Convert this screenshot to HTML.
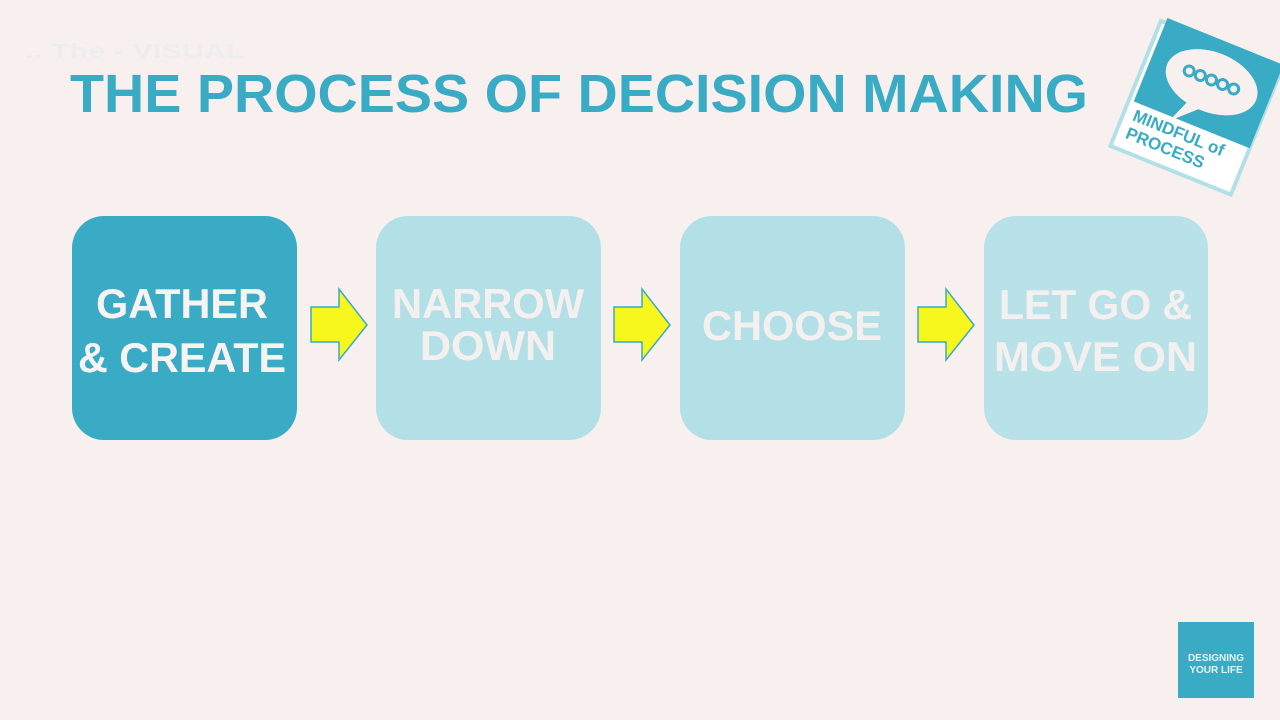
<!DOCTYPE html>
<html><head><meta charset="utf-8"><style>
html,body{margin:0;padding:0;background:#f8f0ef;}
svg{display:block}
</style></head><body>
<svg width="1280" height="720" viewBox="0 0 1280 720" xmlns="http://www.w3.org/2000/svg" font-family="Liberation Sans, sans-serif" font-weight="bold">
<rect width="1280" height="720" fill="#f8f0ef"/>
<text x="70" y="112" font-size="54" fill="#3aabc4" textLength="1018" lengthAdjust="spacingAndGlyphs">THE PROCESS OF DECISION MAKING</text>
<text x="25" y="58" font-size="20" fill="#cfe9ee" textLength="220" lengthAdjust="spacingAndGlyphs" opacity="0.3">..  The  -  VISUAL</text>

<!-- logo top right -->
<g transform="translate(1195,110) rotate(22)">
  <rect x="-65" y="-70" width="130" height="135" fill="#fff" stroke="#b3e0e7" stroke-width="4"/>
  <rect x="-60" y="-75" width="125" height="90" fill="#3aabc4"/>
  <ellipse cx="5" cy="-32" rx="48" ry="30" fill="#f8f0ef"/>
  <path d="M-10 -5 L-20 20 L5 -4 Z" fill="#f8f0ef"/>
  <g fill="none" stroke="#3aabc4" stroke-width="3">
    <circle cx="-20" cy="-34" r="5"/><circle cx="-8" cy="-34" r="5"/><circle cx="4" cy="-34" r="5"/><circle cx="16" cy="-34" r="5"/><circle cx="28" cy="-34" r="5"/>
  </g>
  <text x="-55" y="33" font-size="17" fill="#3aabc4">MINDFUL of</text>
  <text x="-55" y="52" font-size="17" fill="#3aabc4">PROCESS</text>
</g>

<!-- boxes -->
<rect x="72" y="216" width="225" height="224" rx="32" fill="#3aabc4"/>
<rect x="376" y="216" width="225" height="224" rx="32" fill="#b3e0e7"/>
<rect x="680" y="216" width="225" height="224" rx="32" fill="#b3e0e7"/>
<rect x="984" y="216" width="224" height="224" rx="32" fill="#b9e2e8"/>

<g font-size="42" fill="#f5f0f0">
<text x="96" y="318" textLength="172" lengthAdjust="spacingAndGlyphs" fill="#f8f3f3">GATHER</text>
<text x="78" y="372" textLength="208" lengthAdjust="spacingAndGlyphs" fill="#f8f3f3">&amp; CREATE</text>
<text x="392" y="318" textLength="192" lengthAdjust="spacingAndGlyphs">NARROW</text>
<text x="420" y="360" textLength="136" lengthAdjust="spacingAndGlyphs">DOWN</text>
<text x="702" y="340" textLength="180" lengthAdjust="spacingAndGlyphs">CHOOSE</text>
<text x="999" y="319" textLength="193" lengthAdjust="spacingAndGlyphs">LET GO &amp;</text>
<text x="994" y="371" textLength="203" lengthAdjust="spacingAndGlyphs">MOVE ON</text>
</g>

<!-- arrows -->
<g fill="#f7f71e" stroke="#3aabc4" stroke-width="1.5">
<path d="M311 307 L339 307 L339 289 L367 325 L339 360 L339 342 L311 342 Z"/>
<path d="M614 307 L642 307 L642 289 L670 325 L642 360 L642 342 L614 342 Z"/>
<path d="M918 307 L946 307 L946 289 L974 325 L946 360 L946 342 L918 342 Z"/>
</g>

<!-- bottom right logo -->
<rect x="1178" y="622" width="76" height="76" fill="#3aabc4"/>
<text x="1216" y="661" font-size="10" fill="#e8f4f6" text-anchor="middle">DESIGNING</text>
<text x="1216" y="673" font-size="10" fill="#e8f4f6" text-anchor="middle">YOUR LIFE</text>
</svg>
</body></html>
